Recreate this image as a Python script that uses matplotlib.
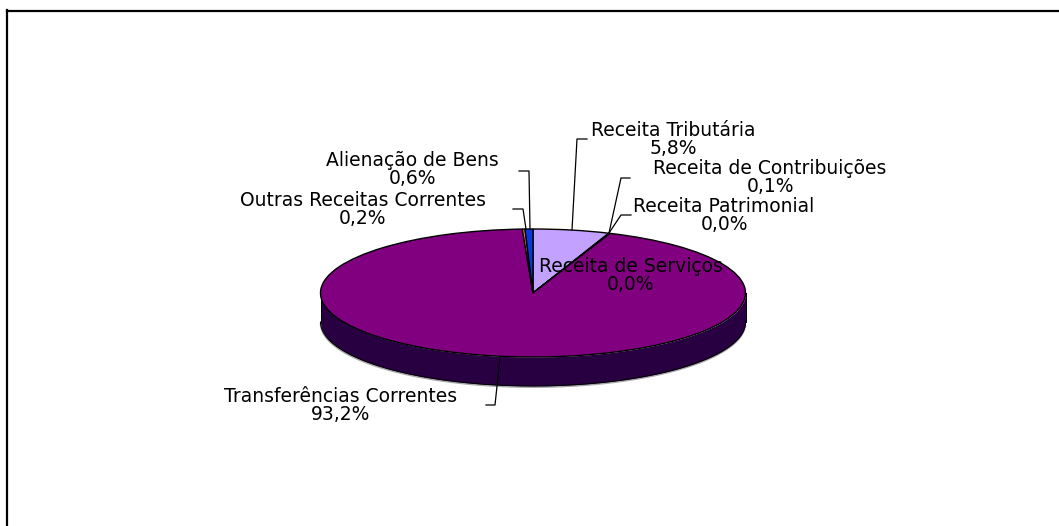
import matplotlib
matplotlib.use('Agg')
import numpy as np
import matplotlib.pyplot as plt
from matplotlib.transforms import Affine2D

categories = ['Receita Tributária', 'Receita de Contribuições', 'Receita Patrimonial',
              'Receita de Serviços', 'Transferências Correntes',
              'Outras Receitas Correntes', 'Alienação de Bens']
values = [5.8, 0.1, 0.0, 0.0, 93.2, 0.2, 0.6]
value_labels = ['5,8%', '0,1%', '0,0%', '0,0%', '93,2%', '0,2%', '0,6%']
colors = ['#C3A1FF', '#FFFFCC', '#CCFFFF', '#660066', '#800080', '#FF8080', '#0A37D8']

W, H = 1059, 526
CX, CY = 533, 293
RX, RY = 212.5, 64
DEPTH = 29

# label centre (x, y of first line) in image pixels
label_pos = [(673, 130), (770, 168), (724, 206), (631, 266), (341, 396), (363, 200), (412, 161)]
leaders = [
    [(587, 139), (577, 139), (572, 230)],
    [(630, 178), (621, 178), (609, 233)],
    [(631, 215), (621, 215), (609, 233)],
    None,
    [(486, 405), (495, 405), (500, 358)],
    [(513, 209), (523, 209), (526, 229)],
    [(519, 171), (529, 171), (530, 229)],
]

fig = plt.figure(figsize=(W / 100, H / 100), dpi=100)
ax = fig.add_axes([0, 0, 1, 1])

# image pixels (origin top left) to display coordinates
pix = Affine2D().scale(1, -1).translate(0, H)

wedges, _ = ax.pie(values, colors=colors, startangle=90, counterclock=False,
                   normalize=True, wedgeprops=dict(edgecolor='black', linewidth=1.0, zorder=3))

# squash the circle into an ellipse: one data unit is RX by RY pixels
ax.set_aspect('auto')
ax.set_xlim(-CX / RX, (W - CX) / RX)
ax.set_ylim(-(H - CY) / RY, CY / RY)
ax.axis('off')

# rim below the front half of the disc
t = np.linspace(np.pi, 2 * np.pi, 200)
x = np.cos(t)
y = np.sin(t)
d = DEPTH / RY
ax.fill_between(x, y, y - d, color='#280042', lw=0, zorder=1)
ax.plot(x, y - d - 0.02, color='#a8a8a8', lw=1.0, zorder=0.9)
ax.plot(x, y - d, color='black', lw=0.7, zorder=2)
ax.plot([-1, -1], [0, -d], color='black', lw=0.7, zorder=2)
ax.plot([1, 1], [0, -d], color='black', lw=0.7, zorder=2)

for pts in leaders:
    if pts is None:
        continue
    xs, ys = zip(*pts)
    ax.plot(xs, ys, color='black', lw=0.9, transform=pix, zorder=4, clip_on=False)

for name, label, (lx, ly) in zip(categories, value_labels, label_pos):
    for txt, yy in ((name, ly), (label, ly + 18)):
        ax.text(lx, yy, txt, transform=pix, ha='center', va='center', fontsize=13.5,
                color='black', zorder=5)

# frame: only top and left edges
fig.add_artist(plt.Line2D([6.5 / W, 6.5 / W], [0, 1 - 10 / H], color='black', lw=1.6))
fig.add_artist(plt.Line2D([6.5 / W, 1], [1 - 11 / H, 1 - 11 / H], color='black', lw=1.6))

fig.savefig('out.png', dpi=100, facecolor='white')
